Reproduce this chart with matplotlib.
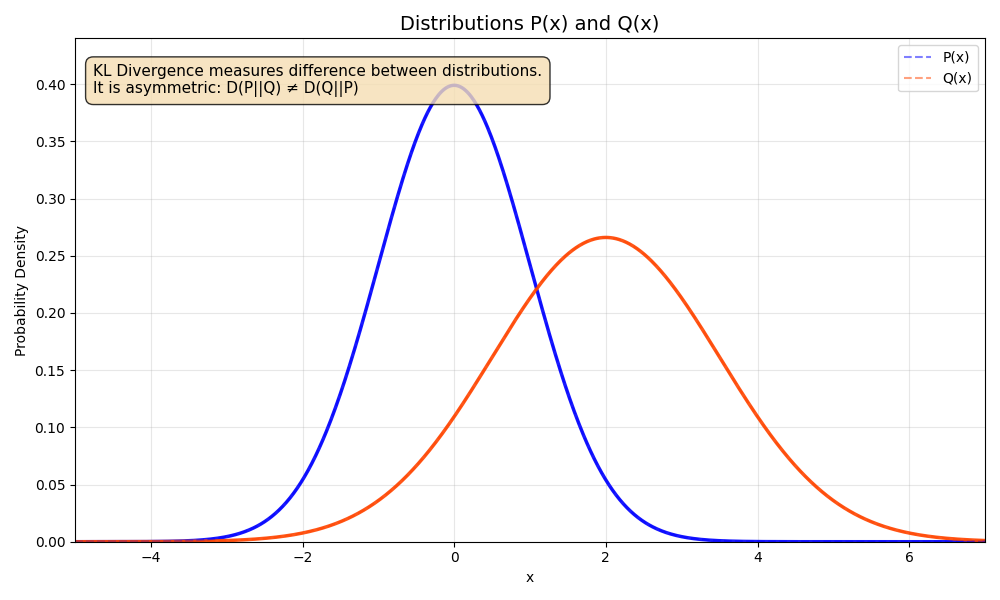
import matplotlib
matplotlib.use("Agg")
import matplotlib.pyplot as plt
import numpy as np

# Distribution parameters
P_MU, P_SIGMA = 0.0, 1.0
Q_MU, Q_SIGMA = 2.0, 1.5
X_RANGE = (-5, 7)


def gauss(x, mu, sigma):
    return np.exp(-0.5 * ((x - mu) / sigma) ** 2) / (sigma * np.sqrt(2 * np.pi))


x = np.linspace(X_RANGE[0], X_RANGE[1], 1000)
p = gauss(x, P_MU, P_SIGMA)
q = gauss(x, Q_MU, Q_SIGMA)

fig, ax = plt.subplots(figsize=(10, 6), dpi=100)
ax.plot(x, p, color="blue", lw=2.5, alpha=0.9)
ax.plot(x, q, color="orangered", lw=2.5, alpha=0.9)
ax.plot(x, p, "--", color="blue", alpha=0.5, label="P(x)")
ax.plot(x, q, "--", color="orangered", alpha=0.5, label="Q(x)")

ax.set_xlim(*X_RANGE)
ax.set_ylim(0, 0.44)
ax.set_xlabel("x")
ax.set_ylabel("Probability Density")
ax.set_title("Distributions P(x) and Q(x)", fontsize=14)
ax.grid(True, alpha=0.3)
ax.legend(loc="upper right")
ax.text(0.02, 0.95, "KL Divergence measures difference between distributions.\nIt is asymmetric: D(P||Q) ≠ D(Q||P)",
        transform=ax.transAxes, fontsize=11, va="top",
        bbox=dict(boxstyle="round,pad=0.5", facecolor="wheat", alpha=0.8))
fig.tight_layout()
fig.savefig("out.png")
